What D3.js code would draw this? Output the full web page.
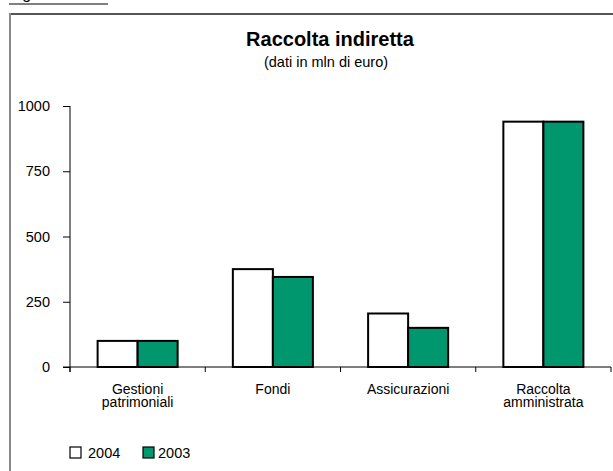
<!DOCTYPE html>
<html>
<head>
<meta charset="utf-8">
<script src="https://cdn.jsdelivr.net/npm/d3@7"></script>
<style>
  body { margin: 0; background: #fff; }
  text { font-family: "Liberation Sans", Arial, sans-serif; fill: #000; }
</style>
</head>
<body>
<script>
// data
const categories = [["Gestioni", "patrimoniali"], ["Fondi"], ["Assicurazioni"], ["Raccolta", "amministrata"]];
const series = ["2004", "2003"];
const values2004 = [100, 375, 205, 940];
const values2003 = [100, 345, 150, 940];
const yTicks = [0, 250, 500, 750, 1000];
const colors = ["#ffffff", "#00966e"];

const W = 613, H = 471;
const svg = d3.select("body").append("svg")
    .attr("width", W).attr("height", H);

// page header remnant (cut off at top)
svg.append("text").attr("x", 10).attr("y", -1)
    .style("font-size", "16px").style("font-style", "italic").text("Figura n. 11");
svg.append("line").attr("x1", 9).attr("x2", 108).attr("y1", 4).attr("y2", 4)
    .attr("stroke", "#000").attr("stroke-width", 1);

// frame
svg.append("line").attr("x1", 10).attr("x2", W).attr("y1", 14).attr("y2", 14)
    .attr("stroke", "#555").attr("stroke-width", 2);
svg.append("line").attr("x1", 10).attr("x2", 10).attr("y1", 13).attr("y2", H)
    .attr("stroke", "#888").attr("stroke-width", 2);

// titles
svg.append("text").attr("x", 330).attr("y", 46).attr("text-anchor", "middle")
    .style("font-size", "20px").style("font-weight", "bold").text("Raccolta indiretta");
svg.append("text").attr("x", 326).attr("y", 67).attr("text-anchor", "middle")
    .style("font-size", "14.5px").text("(dati in mln di euro)");

const x0 = d3.scaleBand().domain(d3.range(categories.length)).range([70, 611]);
const x1 = d3.scaleBand().domain(series).range([0, x0.bandwidth()]).paddingOuter(0.69);
const y = d3.scaleLinear().domain([0, 1000]).range([367, 106]);

const rows = categories.map((c, i) => ({ i, vals: [values2004[i], values2003[i]] }));

// bars
const g = svg.append("g");
g.selectAll("g.cat").data(rows).join("g")
    .attr("transform", d => `translate(${x0(d.i)},0)`)
    .selectAll("rect").data(d => d.vals.map((v, k) => ({ k, v })))
    .join("rect")
    .attr("x", d => x1(series[d.k]))
    .attr("y", d => y(d.v))
    .attr("width", x1.bandwidth())
    .attr("height", d => y(0) - y(d.v))
    .attr("fill", d => colors[d.k])
    .attr("stroke", "#000").attr("stroke-width", 2);

// y axis
const yAxis = svg.append("g").attr("transform", "translate(70,0)")
    .call(d3.axisLeft(y).tickValues(yTicks).tickSize(7).tickPadding(13).tickFormat(d3.format("d")));
yAxis.select(".domain").attr("d", "M0,106V372");
yAxis.selectAll("text").style("font-size", "14.5px");

// x axis
const xAxis = svg.append("g").attr("transform", "translate(0,367)");
xAxis.append("line").attr("x1", 63).attr("x2", 611).attr("stroke", "#000");
xAxis.selectAll("line.tk").data(d3.range(categories.length + 1)).join("line")
    .attr("class", "tk")
    .attr("x1", i => i < categories.length ? x0(i) : x0.range()[1])
    .attr("x2", i => i < categories.length ? x0(i) : x0.range()[1])
    .attr("y1", 0).attr("y2", 5).attr("stroke", "#000");
const lbl = xAxis.selectAll("text.cat").data(categories).join("text")
    .attr("class", "cat")
    .attr("text-anchor", "middle")
    .attr("x", (d, i) => x0(i) + x0.bandwidth() / 2)
    .style("font-size", "14px");
lbl.selectAll("tspan").data(d => d).join("tspan")
    .attr("x", function () { return this.parentNode.getAttribute("x"); })
    .attr("y", (d, k) => 27 + k * 13)
    .text(d => d);

// legend
const leg = svg.append("g").selectAll("g").data(series).join("g")
    .attr("transform", (d, i) => `translate(${70 + i * 73},447)`);
leg.append("rect").attr("width", 11).attr("height", 11)
    .attr("fill", (d, i) => colors[i]).attr("stroke", "#000").attr("stroke-width", 1.2);
leg.append("text").attr("x", (d, i) => i ? 15 : 18).attr("y", 11)
    .style("font-size", "14.5px").text(d => d);
</script>
</body>
</html>
